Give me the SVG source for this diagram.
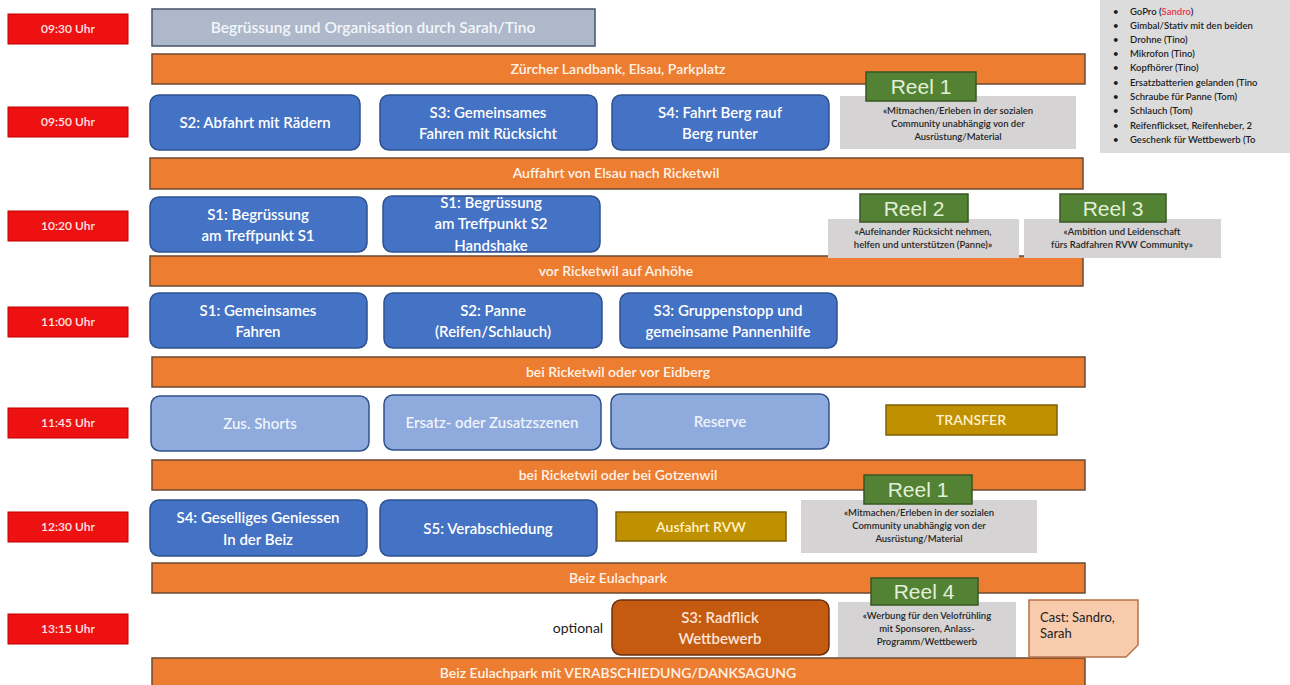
<svg xmlns="http://www.w3.org/2000/svg" width="1290" height="685" viewBox="0 0 1290 685">
<style>
text{font-family:Lato,"Open Sans","Liberation Sans",sans-serif}
.time rect{fill:#ee1111;stroke:#c00000;stroke-width:1}
.time text{fill:#ffe6e6;font-size:12px;text-anchor:middle;font-weight:600}
.bar rect{fill:#ed7d31;stroke:#6b4a30;stroke-width:1.5}
.bar text{fill:#fff3e8;font-size:14px;text-anchor:middle;font-weight:600}
.sc rect{fill:#4472c4;stroke:#2f528f;stroke-width:1.5}
.sc text{fill:#ffffff;font-size:15px;text-anchor:middle;font-weight:600}
.lt rect{fill:#8faadc;stroke:#2f528f;stroke-width:1.5}
.lt text{fill:#eef3fb;font-size:15px;text-anchor:middle;font-weight:600}
.gold rect{fill:#bf9000;stroke:#7f6000;stroke-width:1.5}
.gold text{fill:#fff2cc;font-size:14px;text-anchor:middle;font-weight:600}
.reel rect{fill:#548235;stroke:#385723;stroke-width:1.5}
.reel text{fill:#e2f0d9;font-size:21px;text-anchor:middle;font-family:"Liberation Sans",Arial,sans-serif}
.note rect{fill:#d5d3d3}
.note text{fill:#262626;font-size:9.5px;text-anchor:middle;font-weight:600}
.list text{fill:#1e1e1e;font-size:9.5px;font-weight:600}
</style>

<g id="times">
<g class="time" id="t0930"><rect x="8" y="14" width="120" height="30"/><text x="68" y="33">09:30 Uhr</text></g>
<g class="time" id="t0950"><rect x="8" y="107" width="120" height="30"/><text x="68" y="126">09:50 Uhr</text></g>
<g class="time" id="t1020"><rect x="8" y="211" width="120" height="30"/><text x="68" y="230">10:20 Uhr</text></g>
<g class="time" id="t1100"><rect x="8" y="307" width="120" height="30"/><text x="68" y="326">11:00 Uhr</text></g>
<g class="time" id="t1145"><rect x="8" y="408" width="120" height="30"/><text x="68" y="427">11:45 Uhr</text></g>
<g class="time" id="t1230"><rect x="8" y="512" width="120" height="30"/><text x="68" y="531">12:30 Uhr</text></g>
<g class="time" id="t1315"><rect x="8" y="614" width="120" height="30"/><text x="68" y="633">13:15 Uhr</text></g>
</g>

<g id="welcome"><rect x="152" y="9" width="443" height="37" fill="#adb9ca" stroke="#44546a" stroke-width="1.5"/><text x="373" y="33" fill="#f4f6fa" font-size="15.5" font-weight="600" text-anchor="middle">Begrüssung und Organisation durch Sarah/Tino</text></g>

<g id="bars">
<g class="bar" id="b1"><rect x="152" y="54" width="933" height="30"/><text x="618" y="74">Zürcher Landbank, Elsau, Parkplatz</text></g>
<g class="bar" id="b2"><rect x="150" y="158" width="933" height="31"/><text x="616" y="178">Auffahrt von Elsau nach Ricketwil</text></g>
<g class="bar" id="b3"><rect x="150" y="256" width="933" height="30"/><text x="616" y="276">vor Ricketwil auf Anhöhe</text></g>
<g class="bar" id="b4"><rect x="152" y="357" width="933" height="30"/><text x="618" y="377">bei Ricketwil oder vor Eidberg</text></g>
<g class="bar" id="b5"><rect x="152" y="460" width="933" height="30"/><text x="618" y="480">bei Ricketwil oder bei Gotzenwil</text></g>
<g class="bar" id="b6"><rect x="152" y="563" width="933" height="30"/><text x="618" y="583">Beiz Eulachpark</text></g>
<g class="bar" id="b7"><rect x="152" y="658" width="933" height="34"/><text x="618" y="678">Beiz Eulachpark mit VERABSCHIEDUNG/DANKSAGUNG</text></g>
</g>

<g id="row0950">
<g class="sc" id="s2abfahrt"><rect x="150" y="95" width="210" height="55" rx="9"/><text x="255" y="128">S2: Abfahrt mit Rädern</text></g>
<g class="sc" id="s3gemeinsam"><rect x="380" y="95" width="217" height="55" rx="9"/><text x="488" y="118">S3: Gemeinsames</text><text x="488" y="139">Fahren mit Rücksicht</text></g>
<g class="sc" id="s4berg"><rect x="612" y="95" width="217" height="55" rx="9"/><text x="720" y="118">S4: Fahrt Berg rauf</text><text x="720" y="139">Berg runter</text></g>
</g>

<g id="row1020">
<g class="sc" id="s1treff1"><rect x="150" y="197" width="217" height="55" rx="9"/><text x="258" y="220">S1: Begrüssung</text><text x="258" y="241">am Treffpunkt S1</text></g>
<g class="sc" id="s1treff2"><rect x="383" y="196" width="217" height="56" rx="9"/><text x="491" y="208">S1: Begrüssung</text><text x="491" y="229">am Treffpunkt S2</text><text x="491" y="251">Handshake</text></g>
</g>

<g id="row1100">
<g class="sc" id="s1fahren"><rect x="150" y="293" width="217" height="55" rx="9"/><text x="258" y="316">S1: Gemeinsames</text><text x="258" y="337">Fahren</text></g>
<g class="sc" id="s2panne"><rect x="384" y="293" width="218" height="55" rx="9"/><text x="493" y="316">S2: Panne</text><text x="493" y="337">(Reifen/Schlauch)</text></g>
<g class="sc" id="s3stopp"><rect x="620" y="293" width="217" height="55" rx="9"/><text x="728" y="316">S3: Gruppenstopp und</text><text x="728" y="337">gemeinsame Pannenhilfe</text></g>
</g>

<g id="row1145">
<g class="lt" id="shorts"><rect x="151" y="396" width="218" height="55" rx="9"/><text x="260" y="429">Zus. Shorts</text></g>
<g class="lt" id="ersatz"><rect x="384" y="395" width="217" height="55" rx="9"/><text x="492" y="428">Ersatz- oder Zusatzszenen</text></g>
<g class="lt" id="reserve"><rect x="611" y="394" width="218" height="55" rx="9"/><text x="720" y="427">Reserve</text></g>
<g class="gold" id="transfer"><rect x="886" y="405" width="171" height="30"/><text x="971" y="425">TRANSFER</text></g>
</g>

<g id="row1230">
<g class="sc" id="s4beiz"><rect x="150" y="500" width="217" height="56" rx="9"/><text x="258" y="523">S4: Geselliges Geniessen</text><text x="258" y="545">In der Beiz</text></g>
<g class="sc" id="s5"><rect x="380" y="500" width="217" height="56" rx="9"/><text x="488" y="534">S5: Verabschiedung</text></g>
<g class="gold" id="ausfahrt"><rect x="616" y="512" width="170" height="29"/><text x="701" y="532">Ausfahrt RVW</text></g>
</g>

<g id="row1315">
<text x="578" y="633" font-size="14" fill="#222" text-anchor="middle" font-family="Lato,'Open Sans',sans-serif">optional</text>
<g id="radflick"><rect x="612" y="600" width="217" height="55" rx="9" fill="#c55a11" stroke="#6b3110" stroke-width="1.5"/><text x="720" y="623" fill="#fce4d6" font-size="15" font-weight="600" text-anchor="middle">S3: Radflick</text><text x="720" y="644" fill="#fce4d6" font-size="15" font-weight="600" text-anchor="middle">Wettbewerb</text></g>
<g id="cast"><path d="M1029,600 H1138 V645 L1126,657 H1029 Z" fill="#f8cbad" stroke="#b8704a" stroke-width="1.5"/><text x="1040" y="622" font-size="13" fill="#222" font-family="'Liberation Sans',Arial,sans-serif">Cast: Sandro,</text><text x="1040" y="638" font-size="13" fill="#222" font-family="'Liberation Sans',Arial,sans-serif">Sarah</text></g>
</g>

<g id="reels">
<g class="note" id="note1a"><rect x="840" y="96" width="236" height="53"/><text x="958" y="114">«Mitmachen/Erleben in der sozialen</text><text x="958" y="127">Community unabhängig von der</text><text x="958" y="140">Ausrüstung/Material</text></g>
<g class="reel" id="reel1a"><rect x="866" y="72" width="110" height="29"/><text x="921" y="94">Reel 1</text></g>

<g class="note" id="note2"><rect x="828" y="219" width="191" height="39"/><text x="923" y="235">«Aufeinander Rücksicht nehmen,</text><text x="923" y="248">helfen und unterstützen (Panne)»</text></g>
<g class="reel" id="reel2"><rect x="860" y="194" width="108" height="28"/><text x="914" y="216">Reel 2</text></g>

<g class="note" id="note3"><rect x="1024" y="219" width="197" height="39"/><text x="1122" y="235">«Ambition und Leidenschaft</text><text x="1122" y="248">fürs Radfahren RVW Community»</text></g>
<g class="reel" id="reel3"><rect x="1060" y="194" width="106" height="28"/><text x="1113" y="216">Reel 3</text></g>

<g class="note" id="note1b"><rect x="801" y="500" width="236" height="53"/><text x="919" y="516">«Mitmachen/Erleben in der sozialen</text><text x="919" y="529">Community unabhängig von der</text><text x="919" y="542">Ausrüstung/Material</text></g>
<g class="reel" id="reel1b"><rect x="864" y="475" width="108" height="29"/><text x="918" y="497">Reel 1</text></g>

<g class="note" id="note4"><rect x="838" y="602" width="178" height="55"/><text x="927" y="619">«Werbung für den Velofrühling</text><text x="927" y="632">mit Sponsoren, Anlass-</text><text x="927" y="645">Programm/Wettbewerb</text></g>
<g class="reel" id="reel4"><rect x="871" y="578" width="107" height="27"/><text x="924" y="599">Reel 4</text></g>
</g>

<g id="equipment" class="list">
<rect x="1100" y="-5" width="195" height="158" fill="#dcdcdc"/>
<text x="1113" y="15">•</text><text x="1130" y="15">GoPro (<tspan fill="#e8334a">Sandro</tspan>)</text>
<text x="1113" y="29">•</text><text x="1130" y="29">Gimbal/Stativ mit den beiden</text>
<text x="1113" y="43">•</text><text x="1130" y="43">Drohne (Tino)</text>
<text x="1113" y="57">•</text><text x="1130" y="57">Mikrofon (Tino)</text>
<text x="1113" y="71">•</text><text x="1130" y="71">Kopfhörer (Tino)</text>
<text x="1113" y="86">•</text><text x="1130" y="86">Ersatzbatterien gelanden (Tino</text>
<text x="1113" y="100">•</text><text x="1130" y="100">Schraube für Panne (Tom)</text>
<text x="1113" y="114">•</text><text x="1130" y="114">Schlauch (Tom)</text>
<text x="1113" y="129">•</text><text x="1130" y="129">Reifenflickset, Reifenheber, 2</text>
<text x="1113" y="143">•</text><text x="1130" y="143">Geschenk für Wettbewerb (To</text>
</g>
</svg>
